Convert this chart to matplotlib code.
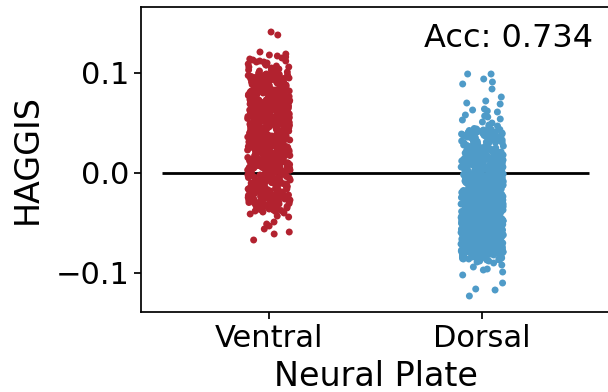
import numpy as np
import pandas as pd
import seaborn as sns
import matplotlib
matplotlib.use("Agg")
import matplotlib.pyplot as plt

# HAGGIS scores per neural plate group
ventral = [
    0.141, 0.138, 0.121, 0.118, 0.116, 0.119, 0.113, 0.111, 0.114, 0.108, 0.106, 0.110, 0.104, 0.102, 0.107,
    0.101, 0.103, 0.105, 0.100, 0.109, 0.112, 0.102,
    0.099, 0.087, 0.093, 0.081, 0.096, 0.084, 0.090, 0.098, 0.082, 0.094, 0.088, 0.085, 0.097, 0.091, 0.083,
    0.095, 0.080, 0.089, 0.092, 0.086, 0.099, 0.084, 0.093, 0.081, 0.097, 0.088, 0.095, 0.083, 0.090, 0.086,
    0.098, 0.082, 0.094, 0.087, 0.091, 0.085, 0.096, 0.080, 0.089, 0.092, 0.084, 0.097, 0.086, 0.093, 0.081,
    0.088, 0.095, 0.083, 0.090, 0.099,
    0.079, 0.064, 0.072, 0.061, 0.076, 0.068, 0.070, 0.063, 0.077, 0.066, 0.074, 0.060, 0.071, 0.078, 0.065,
    0.073, 0.062, 0.069, 0.075, 0.067, 0.079, 0.061, 0.072, 0.064, 0.076, 0.070, 0.063, 0.078, 0.066, 0.074,
    0.068, 0.071, 0.060, 0.077, 0.065, 0.073, 0.062, 0.069, 0.075, 0.067, 0.079, 0.064, 0.072, 0.061, 0.076,
    0.068, 0.070, 0.063, 0.078, 0.066, 0.074, 0.060, 0.071, 0.077, 0.065, 0.073, 0.062, 0.069, 0.075, 0.067,
    0.072, 0.064, 0.079, 0.061, 0.070, 0.076, 0.066, 0.073, 0.068, 0.063,
    0.058, 0.043, 0.051, 0.047, 0.055, 0.040, 0.049, 0.056, 0.044, 0.052, 0.046, 0.059, 0.041, 0.053, 0.048,
    0.057, 0.042, 0.050, 0.054, 0.045, 0.058, 0.047, 0.052, 0.040, 0.055, 0.049, 0.043, 0.056, 0.051, 0.044,
    0.059, 0.046, 0.053, 0.041, 0.057, 0.048, 0.050, 0.054, 0.042, 0.058, 0.045, 0.052, 0.047, 0.055, 0.040,
    0.049, 0.056, 0.043, 0.051, 0.044, 0.059, 0.046, 0.053, 0.041, 0.057, 0.048, 0.050, 0.054, 0.042, 0.045,
    0.052, 0.047, 0.058, 0.043, 0.055, 0.049, 0.051, 0.044, 0.056, 0.046, 0.053, 0.041, 0.057, 0.048, 0.050,
    0.038, 0.023, 0.031, 0.027, 0.035, 0.020, 0.029, 0.036, 0.024, 0.032, 0.026, 0.039, 0.021, 0.033, 0.028,
    0.037, 0.022, 0.030, 0.034, 0.025, 0.038, 0.027, 0.032, 0.020, 0.035, 0.029, 0.023, 0.036, 0.031, 0.024,
    0.039, 0.026, 0.033, 0.021, 0.037, 0.028, 0.030, 0.034, 0.022, 0.038, 0.025, 0.032, 0.027, 0.035, 0.020,
    0.029, 0.036, 0.023, 0.031, 0.024, 0.039, 0.026, 0.033, 0.021, 0.037, 0.028, 0.030, 0.034, 0.022, 0.025,
    0.032, 0.027, 0.038, 0.023, 0.035, 0.029, 0.031, 0.024, 0.036, 0.026, 0.033, 0.021, 0.037, 0.028, 0.030,
    0.018, 0.004, 0.011, 0.007, 0.015, 0.001, 0.009, 0.016, 0.003, 0.012, 0.006, 0.019, 0.002, 0.013, 0.008,
    0.017, 0.005, 0.010, 0.014, 0.000, 0.018, 0.007, 0.012, 0.003, 0.015, 0.009, 0.001, 0.016, 0.011, 0.004,
    0.019, 0.006, 0.013, 0.002, 0.017, 0.008, 0.010, 0.014, 0.005, 0.018, 0.003, 0.012, 0.007, 0.015, 0.001,
    0.009, 0.016, 0.004, 0.011, 0.006, 0.019, 0.002, 0.013, 0.008, 0.017, 0.005, 0.010, 0.014, 0.000, 0.012,
    0.007, 0.016, 0.003, 0.018, 0.009,
    -0.002, -0.014, -0.007, -0.019, -0.004, -0.011, -0.016, -0.001, -0.009, -0.013, -0.005, -0.018, -0.008,
    -0.003, -0.012, -0.017, -0.006, -0.010, -0.015, -0.002, -0.019, -0.007, -0.013, -0.004, -0.011, -0.016,
    -0.001, -0.009, -0.014, -0.005, -0.018, -0.008, -0.003, -0.012, -0.017, -0.006, -0.010, -0.015, -0.020,
    -0.011, -0.004, -0.014, -0.007, -0.018, -0.009,
    -0.021, -0.029, -0.024, -0.033, -0.026, -0.022, -0.031, -0.027, -0.035, -0.023, -0.030, -0.025, -0.034,
    -0.028, -0.021, -0.032, -0.024, -0.029, -0.026, -0.033, -0.022, -0.030, -0.027, -0.025, -0.031,
    -0.036, -0.041, -0.038, -0.043, -0.037, -0.040, -0.044, -0.039,
    -0.049, -0.051, -0.053, -0.056, -0.059, -0.061, -0.067,
    # second batch of ventral cells
    0.117, 0.106, 0.112, 0.103, 0.109, 0.115, 0.101, 0.104, 0.108, 0.111,
    0.0985, 0.0815, 0.0905, 0.0865, 0.0945, 0.0835, 0.0925, 0.0885, 0.0955, 0.0805,
    0.0875, 0.0915, 0.0825, 0.0965, 0.0845, 0.0895, 0.0935, 0.0855, 0.0975, 0.0815,
    0.0905, 0.0865, 0.0945, 0.0835, 0.0925, 0.0885, 0.0955, 0.0805, 0.0875, 0.0915,
    0.0825, 0.0965, 0.0845, 0.0895, 0.0935, 0.0855, 0.0975, 0.0985, 0.0915, 0.0865,
    0.0785, 0.0615, 0.0705, 0.0665, 0.0745, 0.0635, 0.0725, 0.0685, 0.0755, 0.0605,
    0.0675, 0.0715, 0.0625, 0.0765, 0.0645, 0.0695, 0.0735, 0.0655, 0.0775, 0.0615,
    0.0705, 0.0665, 0.0745, 0.0635, 0.0725, 0.0685, 0.0755, 0.0605, 0.0675, 0.0715,
    0.0625, 0.0765, 0.0645, 0.0695, 0.0735, 0.0655, 0.0775, 0.0785, 0.0715, 0.0665,
    0.0745, 0.0685, 0.0625, 0.0705, 0.0655, 0.0765, 0.0635, 0.0725, 0.0695, 0.0675,
    0.0585, 0.0415, 0.0505, 0.0465, 0.0545, 0.0435, 0.0525, 0.0485, 0.0555, 0.0405,
    0.0475, 0.0515, 0.0425, 0.0565, 0.0445, 0.0495, 0.0535, 0.0455, 0.0575, 0.0415,
    0.0505, 0.0465, 0.0545, 0.0435, 0.0525, 0.0485, 0.0555, 0.0405, 0.0475, 0.0515,
    0.0425, 0.0565, 0.0445, 0.0495, 0.0535, 0.0455, 0.0575, 0.0585, 0.0515, 0.0465,
    0.0545, 0.0485, 0.0425, 0.0505, 0.0455, 0.0565, 0.0435, 0.0525, 0.0495, 0.0475,
    0.0385, 0.0215, 0.0305, 0.0265, 0.0345, 0.0235, 0.0325, 0.0285, 0.0355, 0.0205,
    0.0275, 0.0315, 0.0225, 0.0365, 0.0245, 0.0295, 0.0335, 0.0255, 0.0375, 0.0215,
    0.0305, 0.0265, 0.0345, 0.0235, 0.0325, 0.0285, 0.0355, 0.0205, 0.0275, 0.0315,
    0.0225, 0.0365, 0.0245, 0.0295, 0.0335, 0.0255, 0.0375, 0.0385, 0.0315, 0.0265,
    0.0345, 0.0285, 0.0225, 0.0305, 0.0255,
    0.0185, 0.0015, 0.0105, 0.0065, 0.0145, 0.0035, 0.0125, 0.0085, 0.0155, 0.0005,
    0.0075, 0.0115, 0.0025, 0.0165, 0.0045, 0.0095, 0.0135, 0.0055, 0.0175, 0.0015,
    0.0105, 0.0065, 0.0145, 0.0035, 0.0125, 0.0085, 0.0155, 0.0005, 0.0075, 0.0115,
    0.0025, 0.0165, 0.0045, 0.0095, 0.0135, 0.0055, 0.0175, 0.0185, 0.0115, 0.0065,
    0.0145, 0.0085, 0.0025, 0.0105, 0.0055,
    -0.0035, -0.0155, -0.0085, -0.0185, -0.0045, -0.0125, -0.0165, -0.0015, -0.0105, -0.0135,
    -0.0065, -0.0175, -0.0095, -0.0025, -0.0145, -0.0195, -0.0055, -0.0115, -0.0075, -0.0025,
    -0.0155, -0.0085, -0.0135, -0.0045, -0.0105,
    -0.0225, -0.0285, -0.0245, -0.0315, -0.0265, -0.0215, -0.0305, -0.0275, -0.0335, -0.0235,
    -0.0295, -0.0255, -0.0325, -0.0345, -0.0215,
    -0.0065, -0.0125, -0.0185, -0.0225, -0.0265, -0.0305, -0.0345, -0.0375, -0.0095, -0.0155,
    -0.0205, -0.0245, -0.0285, -0.0325, -0.0365, -0.0115, -0.0175, -0.0215, -0.0255, -0.0295,
    -0.0335, -0.0355, -0.0145, -0.0195, -0.0235, -0.0275, -0.0315, -0.0385, -0.0085, -0.0265,
]

dorsal = [
    0.099, 0.099, 0.094, 0.091, 0.089, 0.084, 0.076, 0.072, 0.070, 0.069, 0.064, 0.063, 0.062, 0.061, 0.058,
    0.057, 0.056, 0.054, 0.053, 0.051, 0.050, 0.048, 0.047, 0.046,
    0.043, 0.028, 0.036, 0.021, 0.040, 0.032, 0.025, 0.044, 0.030, 0.038, 0.023, 0.034, 0.041, 0.027, 0.035,
    0.020, 0.039, 0.031, 0.024, 0.042, 0.029, 0.037, 0.022, 0.033, 0.043, 0.026, 0.040, 0.030, 0.036, 0.021,
    0.038, 0.025, 0.044, 0.032, 0.028, 0.041, 0.023, 0.035, 0.039, 0.027, 0.042, 0.031, 0.020, 0.037, 0.024,
    0.034, 0.043, 0.029, 0.040, 0.022, 0.036, 0.026, 0.033, 0.041, 0.038,
    0.017, 0.003, 0.011, 0.008, 0.014, 0.000, 0.019, 0.006, 0.012, 0.002, 0.016, 0.009, 0.004, 0.013, 0.018,
    0.007, 0.015, 0.001, 0.010, 0.019, 0.005, 0.012, 0.017, 0.003, 0.014, 0.008, 0.011, 0.000, 0.016, 0.006,
    0.013, 0.002, 0.018, 0.009, 0.015, 0.004, 0.010, 0.019, 0.007, 0.012, 0.001, 0.017, 0.005, 0.014, 0.011,
    0.003, 0.016, 0.008, 0.018, 0.006, 0.013, 0.000, 0.015, 0.009, 0.002, 0.019, 0.010, 0.004, 0.017, 0.007,
    0.012, 0.014, 0.005, 0.018, 0.001, 0.011, 0.016, 0.003, 0.009, 0.013,
    -0.003, -0.016, -0.009, -0.012, -0.001, -0.018, -0.006, -0.014, -0.010, -0.004, -0.019, -0.007, -0.015,
    -0.002, -0.011, -0.017, -0.005, -0.013, -0.008, -0.020, -0.003, -0.016, -0.010, -0.006, -0.014, -0.001,
    -0.018, -0.012, -0.004, -0.009, -0.015, -0.007, -0.019, -0.002, -0.013, -0.011, -0.017, -0.005, -0.008,
    -0.016, -0.003, -0.014, -0.010, -0.019, -0.006, -0.012, -0.001, -0.018, -0.009, -0.004, -0.015, -0.007,
    -0.013, -0.020, -0.002, -0.011, -0.017, -0.005, -0.014, -0.008, -0.016, -0.003, -0.012, -0.018, -0.006,
    -0.010, -0.015, -0.001, -0.019, -0.009, -0.004, -0.013, -0.007, -0.017, -0.011,
    -0.024, -0.037, -0.029, -0.021, -0.033, -0.040, -0.026, -0.035, -0.022, -0.031, -0.038, -0.027, -0.034,
    -0.023, -0.039, -0.030, -0.025, -0.036, -0.021, -0.032, -0.028, -0.040, -0.024, -0.037, -0.033, -0.026,
    -0.035, -0.022, -0.029, -0.038, -0.031, -0.027, -0.039, -0.023, -0.034, -0.030, -0.025, -0.036, -0.021,
    -0.032, -0.028, -0.040, -0.024, -0.037, -0.033, -0.026, -0.035, -0.022, -0.029, -0.038, -0.031, -0.027,
    -0.039, -0.023, -0.034, -0.030, -0.025, -0.036, -0.021, -0.032, -0.028, -0.040, -0.024, -0.037, -0.033,
    -0.026, -0.035, -0.022, -0.029, -0.038, -0.031, -0.027, -0.039, -0.023, -0.034, -0.030, -0.025, -0.036,
    -0.032, -0.028, -0.037, -0.024, -0.035, -0.021, -0.039, -0.033, -0.026, -0.030, -0.038, -0.027,
    -0.043, -0.057, -0.049, -0.041, -0.054, -0.046, -0.059, -0.051, -0.044, -0.056, -0.048, -0.042, -0.053,
    -0.058, -0.045, -0.050, -0.055, -0.047, -0.060, -0.052, -0.043, -0.057, -0.049, -0.041, -0.054, -0.046,
    -0.059, -0.051, -0.044, -0.056, -0.048, -0.042, -0.053, -0.058, -0.045, -0.050, -0.055, -0.047, -0.060,
    -0.052, -0.043, -0.057, -0.049, -0.041, -0.054, -0.046, -0.059, -0.051, -0.044, -0.056, -0.048, -0.042,
    -0.053, -0.058, -0.045, -0.050, -0.055, -0.047, -0.060, -0.052, -0.044, -0.058, -0.050, -0.042, -0.055,
    -0.047, -0.060, -0.052, -0.045, -0.057, -0.049, -0.043, -0.054, -0.059, -0.046, -0.051, -0.056, -0.048,
    -0.041, -0.053, -0.044, -0.058, -0.050, -0.042, -0.055, -0.047, -0.060, -0.052, -0.045, -0.057, -0.049,
    -0.043, -0.054, -0.059, -0.046, -0.051, -0.056, -0.048, -0.041, -0.053, -0.047, -0.055, -0.043, -0.058,
    -0.050, -0.044, -0.052, -0.057, -0.046, -0.054, -0.041, -0.059, -0.048, -0.053, -0.045, -0.056, -0.042,
    -0.051, -0.049, -0.055,
    -0.063, -0.077, -0.069, -0.061, -0.074, -0.066, -0.079, -0.071, -0.064, -0.076, -0.068, -0.062, -0.073,
    -0.078, -0.065, -0.070, -0.075, -0.067, -0.080, -0.072, -0.063, -0.077, -0.069, -0.061, -0.074, -0.066,
    -0.079, -0.071, -0.064, -0.076, -0.068, -0.062, -0.073, -0.078, -0.065, -0.070, -0.075, -0.067, -0.080,
    -0.072, -0.064, -0.078, -0.070, -0.062, -0.075, -0.067, -0.080, -0.072, -0.065, -0.077, -0.069, -0.063,
    -0.074, -0.079, -0.066, -0.071, -0.076, -0.068, -0.061, -0.073, -0.064, -0.078, -0.070, -0.062, -0.075,
    -0.067, -0.080, -0.072, -0.065, -0.077, -0.069, -0.063, -0.074, -0.079, -0.066, -0.071, -0.076, -0.068,
    -0.061, -0.073, -0.067, -0.075, -0.063, -0.078, -0.070, -0.064, -0.072, -0.077, -0.066, -0.074, -0.061,
    -0.079, -0.068, -0.073, -0.065, -0.076, -0.062, -0.071, -0.069, -0.075, -0.063, -0.077, -0.070, -0.066,
    -0.078, -0.064, -0.072, -0.068, -0.074, -0.061, -0.076, -0.067, -0.073, -0.079, -0.065, -0.071, -0.062,
    -0.081, -0.084, -0.082, -0.087, -0.083, -0.085, -0.089, -0.081, -0.086, -0.082, -0.084, -0.088, -0.083,
    -0.085, -0.081, -0.087, -0.082, -0.086, -0.084, -0.090, -0.083, -0.085, -0.088, -0.082, -0.086,
    -0.092, -0.094, -0.096, -0.097, -0.099, -0.102, -0.110, -0.116, -0.117, -0.123,
    # second batch of dorsal cells
    0.0435, 0.0285, 0.0365, 0.0215, 0.0405, 0.0325, 0.0255, 0.0445, 0.0305, 0.0385,
    0.0235, 0.0345, 0.0415, 0.0275, 0.0355, 0.0205, 0.0395, 0.0315, 0.0245, 0.0425,
    0.0295, 0.0375, 0.0225, 0.0335, 0.0435, 0.0265, 0.0405, 0.0305, 0.0365, 0.0215,
    0.0175, 0.0035, 0.0115, 0.0085, 0.0145, 0.0005, 0.0195, 0.0065, 0.0125, 0.0025,
    0.0165, 0.0095, 0.0045, 0.0135, 0.0185, 0.0075, 0.0155, 0.0015, 0.0105, 0.0195,
    0.0055, 0.0125, 0.0175, 0.0035, 0.0145, 0.0085, 0.0115, 0.0005, 0.0165, 0.0065,
    0.0135, 0.0025, 0.0185, 0.0095, 0.0155, 0.0045, 0.0105, 0.0195, 0.0075, 0.0125,
    0.0015, 0.0175, 0.0055, 0.0145, 0.0115, 0.0035, 0.0165, 0.0085, 0.0185, 0.0065,
    -0.0035, -0.0165, -0.0095, -0.0125, -0.0015, -0.0185, -0.0065, -0.0145, -0.0105, -0.0045,
    -0.0195, -0.0075, -0.0155, -0.0025, -0.0115, -0.0175, -0.0055, -0.0135, -0.0085, -0.0195,
    -0.0035, -0.0165, -0.0105, -0.0065, -0.0145, -0.0015, -0.0185, -0.0125, -0.0045, -0.0095,
    -0.0155, -0.0075, -0.0195, -0.0025, -0.0135, -0.0115, -0.0175, -0.0055, -0.0085, -0.0165,
    -0.0035, -0.0145, -0.0105, -0.0185, -0.0065, -0.0125, -0.0015, -0.0175, -0.0095, -0.0045,
    -0.0155, -0.0075, -0.0135, -0.0195, -0.0025,
    -0.0245, -0.0375, -0.0295, -0.0215, -0.0335, -0.0395, -0.0265, -0.0355, -0.0225, -0.0315,
    -0.0385, -0.0275, -0.0345, -0.0235, -0.0395, -0.0305, -0.0255, -0.0365, -0.0215, -0.0325,
    -0.0285, -0.0395, -0.0245, -0.0375, -0.0335, -0.0265, -0.0355, -0.0225, -0.0295, -0.0385,
    -0.0315, -0.0275, -0.0395, -0.0235, -0.0345, -0.0305, -0.0255, -0.0365, -0.0215, -0.0325,
    -0.0285, -0.0375, -0.0245, -0.0355, -0.0335, -0.0265, -0.0385, -0.0225, -0.0295, -0.0345,
    -0.0315, -0.0275, -0.0365, -0.0235, -0.0395, -0.0305, -0.0255, -0.0325, -0.0215, -0.0385,
    -0.0285, -0.0345, -0.0245, -0.0375, -0.0335, -0.0265, -0.0355, -0.0225, -0.0295, -0.0315,
    -0.0275, -0.0365, -0.0235, -0.0305, -0.0255,
    -0.0435, -0.0575, -0.0495, -0.0415, -0.0545, -0.0465, -0.0595, -0.0515, -0.0445, -0.0565,
    -0.0485, -0.0425, -0.0535, -0.0585, -0.0455, -0.0505, -0.0555, -0.0475, -0.0595, -0.0525,
    -0.0435, -0.0575, -0.0495, -0.0415, -0.0545, -0.0465, -0.0585, -0.0515, -0.0445, -0.0565,
    -0.0485, -0.0425, -0.0535, -0.0575, -0.0455, -0.0505, -0.0555, -0.0475, -0.0595, -0.0525,
    -0.0445, -0.0585, -0.0505, -0.0425, -0.0555, -0.0475, -0.0595, -0.0525, -0.0455, -0.0575,
    -0.0495, -0.0435, -0.0545, -0.0585, -0.0465, -0.0515, -0.0565, -0.0485, -0.0415, -0.0535,
    -0.0445, -0.0585, -0.0505, -0.0425, -0.0555, -0.0475, -0.0595, -0.0525, -0.0455, -0.0575,
    -0.0495, -0.0435, -0.0545, -0.0595, -0.0465, -0.0515, -0.0565, -0.0485, -0.0415, -0.0535,
    -0.0475, -0.0555, -0.0435, -0.0585, -0.0505, -0.0445, -0.0525, -0.0575, -0.0465, -0.0545,
    -0.0415, -0.0595, -0.0485, -0.0535, -0.0455, -0.0565, -0.0425, -0.0515, -0.0495, -0.0555,
    -0.0635, -0.0775, -0.0695, -0.0615, -0.0745, -0.0665, -0.0795, -0.0715, -0.0645, -0.0765,
    -0.0685, -0.0625, -0.0735, -0.0785, -0.0655, -0.0705, -0.0755, -0.0675, -0.0795, -0.0725,
    -0.0635, -0.0775, -0.0695, -0.0615, -0.0745, -0.0665, -0.0785, -0.0715, -0.0645, -0.0765,
    -0.0685, -0.0625, -0.0735, -0.0775, -0.0655, -0.0705, -0.0755, -0.0675, -0.0795, -0.0725,
    -0.0645, -0.0785, -0.0705, -0.0625, -0.0755, -0.0675, -0.0795, -0.0725, -0.0655, -0.0775,
    -0.0695, -0.0635, -0.0745, -0.0785, -0.0665, -0.0715, -0.0765, -0.0685, -0.0615, -0.0735,
    -0.0645, -0.0785, -0.0705, -0.0625, -0.0755, -0.0675, -0.0795, -0.0725, -0.0655, -0.0775,
    -0.0695, -0.0635, -0.0745, -0.0795, -0.0665, -0.0715, -0.0765, -0.0685, -0.0615, -0.0735,
    -0.0815, -0.0835, -0.0825, -0.0855, -0.0845, -0.0815, -0.0865, -0.0825, -0.0835, -0.0845,
]

groups = ["Ventral", "Dorsal"]
colors = ["#b2222f", "#4f9bc8"]
accuracy = 0.734

df = pd.DataFrame({
    "group": ["Ventral"] * len(ventral) + ["Dorsal"] * len(dorsal),
    "score": ventral + dorsal,
})

np.random.seed(3)
fig = plt.figure(figsize=(6.08, 3.92), dpi=100)
ax = fig.add_axes([141 / 608, 80 / 392, 469 / 608, 305 / 392])

ax.hlines(0, -0.5, 1.5, color="black", lw=2, zorder=1)
sns.stripplot(data=df, x="group", y="score", hue="group", order=groups,
              palette=colors, jitter=0.1, size=5, linewidth=0,
              legend=False, ax=ax, zorder=3)

ax.set_xlim(-0.6, 1.6)
ax.set_ylim(-0.139, 0.166)
ax.set_yticks([-0.1, 0.0, 0.1])
ax.set_xlabel("Neural Plate", fontsize=24, labelpad=5)
ax.set_ylabel("HAGGIS", fontsize=24, labelpad=8)
ax.tick_params(labelsize=22, length=5, width=1.25)
for s in ax.spines.values():
    s.set_linewidth(1.25)

ax.text(0.964, 0.869, "Acc: %.3f" % accuracy, transform=ax.transAxes,
        ha="right", va="baseline", fontsize=23)

fig.savefig("out.png", dpi=100)
